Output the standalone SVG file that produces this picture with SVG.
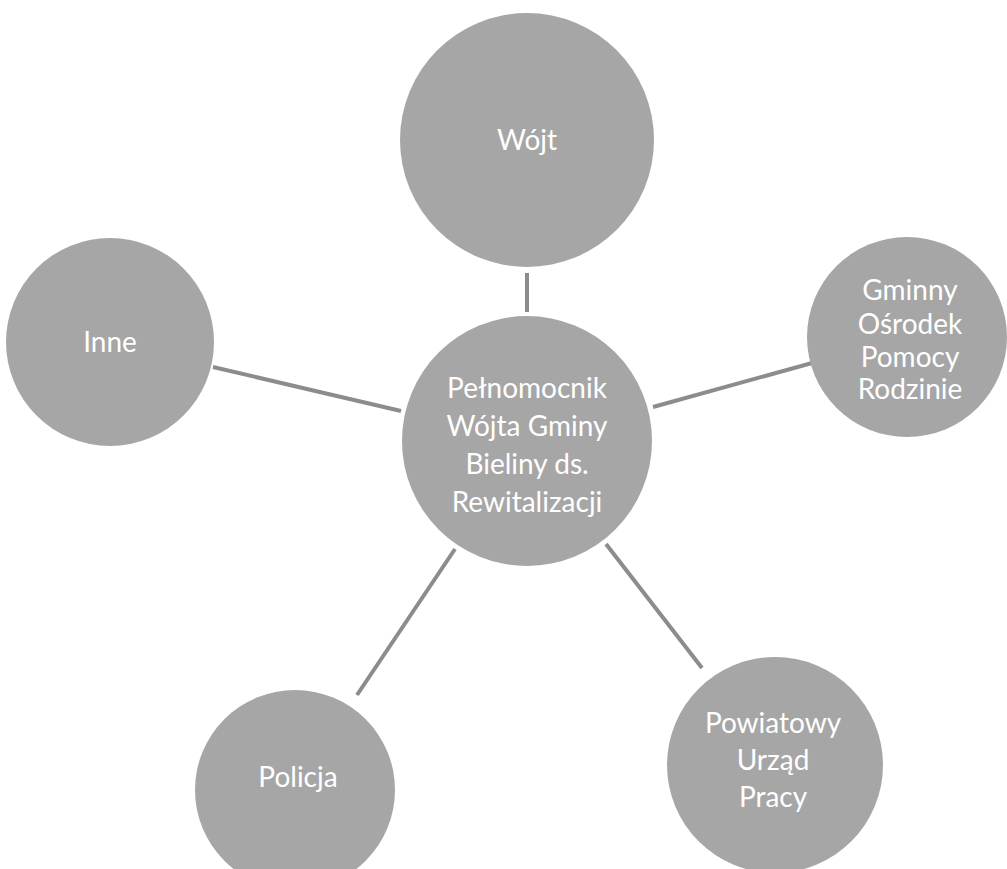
<svg xmlns="http://www.w3.org/2000/svg" width="1007" height="869" viewBox="0 0 1007 869">
<style>
.n{fill:#a6a6a6}
.t{fill:#ffffff;font-family:Lato,"Open Sans","Liberation Sans",sans-serif;font-size:28px;text-anchor:middle}
.c{stroke:#8c8c8c;stroke-width:4;fill:none}
</style>
<rect width="1007" height="869" fill="#ffffff"/>
<g id="connectors">
<line class="c" x1="527" y1="273" x2="527" y2="312"/>
<line class="c" x1="653" y1="407" x2="812" y2="363"/>
<line class="c" x1="606" y1="544" x2="702" y2="668"/>
<line class="c" x1="455" y1="549" x2="357" y2="695"/>
<line class="c" x1="401" y1="411" x2="213" y2="367"/>
</g>
<g id="wojt">
<circle class="n" cx="527" cy="140" r="127"/>
<text class="t" x="527" y="150">Wójt</text>
</g>
<g id="inne">
<circle class="n" cx="110" cy="342" r="104"/>
<text class="t" x="110" y="352">Inne</text>
</g>
<g id="gops">
<circle class="n" cx="907" cy="337" r="100"/>
<text class="t" x="910" y="300">Gminny</text>
<text class="t" x="910" y="334">Ośrodek</text>
<text class="t" x="910" y="367">Pomocy</text>
<text class="t" x="910" y="399">Rodzinie</text>
</g>
<g id="pup">
<circle class="n" cx="775" cy="765" r="108"/>
<text class="t" x="773" y="733">Powiatowy</text>
<text class="t" x="773" y="770">Urząd</text>
<text class="t" x="773" y="807">Pracy</text>
</g>
<g id="policja">
<circle class="n" cx="295" cy="790" r="100"/>
<text class="t" x="298" y="787">Policja</text>
</g>
<g id="center">
<circle class="n" cx="527" cy="441" r="125"/>
<text class="t" x="527" y="398">Pełnomocnik</text>
<text class="t" x="527" y="436">Wójta Gminy</text>
<text class="t" x="527" y="474">Bieliny ds.</text>
<text class="t" x="527" y="512">Rewitalizacji</text>
</g>
</svg>
